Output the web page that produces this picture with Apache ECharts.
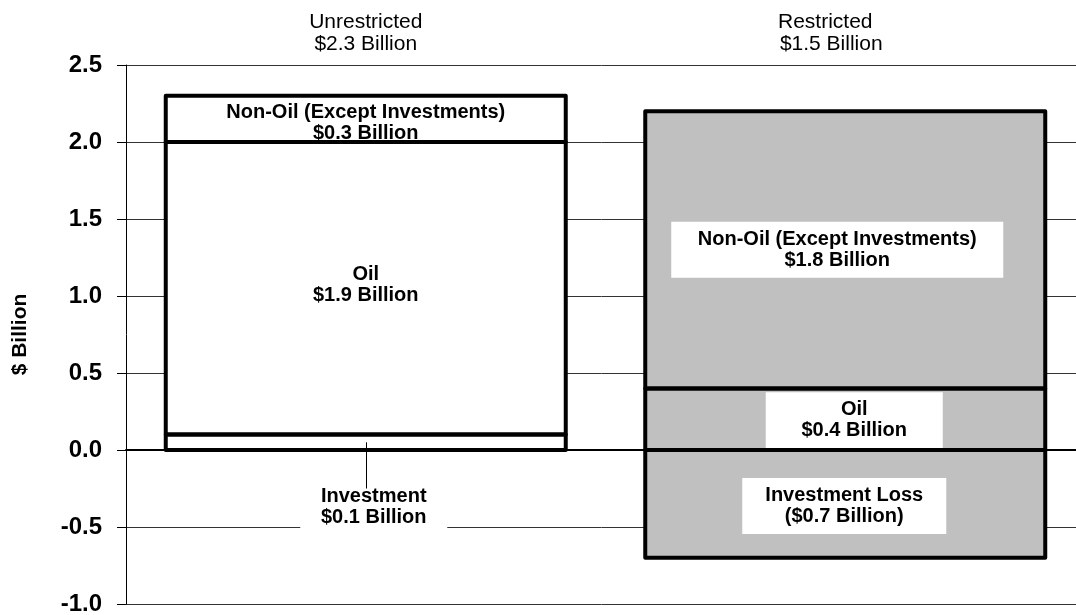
<!DOCTYPE html>
<html>
<head>
<meta charset="utf-8">
<script src="https://cdn.jsdelivr.net/npm/echarts@6/dist/echarts.min.js"></script>
<style>
  html, body { margin: 0; padding: 0; background: #fff; }
  #chart { width: 1076px; height: 615px; }
</style>
</head>
<body>
<div id="chart"></div>
<script>
const categories = ['Unrestricted', 'Restricted'];
const totals = [2.3, 1.5];
const investment = [0.1, -0.7];
const oil = [1.9, 0.4];
const nonOil = [0.3, 1.8];
const investmentNames = ['Investment', 'Investment Loss'];
const barFills = ['#ffffff', '#c0c0c0'];

const FONT = "'Liberation Sans', Arial, sans-serif";
const BAR_W = 400;

const billions = (v) => v < 0
  ? `($${Math.abs(v).toFixed(1)} Billion)`
  : `$${v.toFixed(1)} Billion`;

// segment extents for the outline pass, stacked the way ECharts does (same sign)
const segments = [];
categories.forEach((c, i) => {
  let pos = 0, neg = 0;
  [investment, oil, nonOil].forEach((vals) => {
    const v = vals[i];
    if (v >= 0) { segments.push([i, pos, pos + v]); pos += v; }
    else { segments.push([i, neg, neg + v]); neg += v; }
  });
});

const chart = echarts.init(document.getElementById('chart'));

const baseLabel = {
  show: true,
  position: 'inside',
  color: '#000',
  fontFamily: FONT,
  fontWeight: 'bold',
  fontSize: 20,
  lineHeight: 21,
  align: 'center',
  verticalAlign: 'middle'
};

// white label box: content width and offset from the segment centre
const boxed = (w, offset, pad) => ({
  backgroundColor: '#fff',
  width: w,
  height: 44,
  padding: pad || [6, 6],
  offset
});

const investLabels = [
  boxed(135, [8, 65], [1, 6]),
  boxed(192, [-1, 2])
];
const oilLabels = [
  { offset: [0, -3] },
  boxed(165, [9, 1])
];
const nonOilLabels = [
  { offset: [0, 4] },
  boxed(320, [-8, 0])
];

const makeData = (values, texts, extras) => values.map((v, i) => ({
  value: v,
  itemStyle: { color: barFills[i] },
  label: Object.assign({}, baseLabel, { formatter: texts[i] }, extras[i])
}));

const barStyle = {
  type: 'bar',
  stack: 'total',
  barWidth: BAR_W,
  itemStyle: { borderWidth: 0 },
  emphasis: { disabled: true }
};

const topText = { fontFamily: FONT, fontSize: 21, lineHeight: 22, color: '#000' };

const option = {
  animation: false,
  grid: { left: 126, right: -9, top: 65, bottom: 11, outerBoundsMode: 'none', containLabel: false },
  xAxis: [{
    type: 'category',
    data: categories,
    axisLine: { onZero: true, lineStyle: { color: '#000', width: 2 } },
    axisTick: { show: false },
    axisLabel: { show: false }
  }, {
    type: 'category',
    position: 'top',
    data: categories,
    axisLine: { show: false },
    axisTick: { show: false },
    axisLabel: {
      margin: 10,
      color: '#000',
      fontFamily: FONT,
      fontSize: 21,
      lineHeight: 22,
      formatter: (v, i) => i === 0
        ? `{u|${v}}\n{u|${billions(totals[i])}}`
        : `{r|${v}}\n{r2|${billions(totals[i])}}`,
      rich: {
        u: topText,
        r: Object.assign({}, topText, { padding: [0, 40, 0, 0] }),
        r2: Object.assign({}, topText, { padding: [0, 28, 0, 0] })
      }
    }
  }],
  yAxis: {
    type: 'value',
    min: -1,
    max: 2.5,
    interval: 0.5,
    name: '$ Billion',
    nameLocation: 'middle',
    nameRotate: 90,
    nameGap: 95,
    nameTextStyle: { fontFamily: FONT, fontWeight: 'bold', fontSize: 21, color: '#000' },
    axisLine: { show: true, lineStyle: { color: '#000', width: 1 } },
    axisTick: { show: true, length: 9, lineStyle: { color: '#000' } },
    axisLabel: {
      margin: 24,
      color: '#000',
      fontFamily: FONT,
      fontWeight: 'bold',
      fontSize: 24,
      formatter: (v) => v.toFixed(1)
    },
    splitLine: { lineStyle: { color: '#333', width: 1 } }
  },
  series: [
    Object.assign({}, barStyle, {
      name: 'Investment',
      data: makeData(investment,
        investment.map((v, i) => `${investmentNames[i]}\n${billions(v)}`),
        investLabels),
      markLine: {
        silent: true,
        symbol: 'none',
        label: { show: false },
        lineStyle: { color: '#000', width: 1, type: 'solid' },
        data: [[{ coord: [0, 0.05] }, { coord: [0, -0.25] }]]
      }
    }),
    Object.assign({}, barStyle, {
      name: 'Oil',
      data: makeData(oil, oil.map((v) => `Oil\n${billions(v)}`), oilLabels)
    }),
    Object.assign({}, barStyle, {
      name: 'Non-Oil (Except Investments)',
      data: makeData(nonOil,
        nonOil.map((v) => `Non-Oil (Except Investments)\n${billions(v)}`),
        nonOilLabels)
    }),
    {
      // black outlines of every segment, drawn over the fills
      type: 'custom',
      silent: true,
      z: 3,
      data: segments,
      encode: { x: 0, y: [1, 2] },
      renderItem: (params, api) => {
        const c = api.value(0);
        const a = api.coord([c, api.value(1)]);
        const b = api.coord([c, api.value(2)]);
        return {
          type: 'rect',
          shape: {
            x: a[0] - BAR_W / 2,
            y: Math.min(a[1], b[1]),
            width: BAR_W,
            height: Math.abs(a[1] - b[1])
          },
          style: { fill: 'none', stroke: '#000', lineWidth: 4, lineJoin: 'round' }
        };
      }
    }
  ]
};

chart.setOption(option);
</script>
</body>
</html>
